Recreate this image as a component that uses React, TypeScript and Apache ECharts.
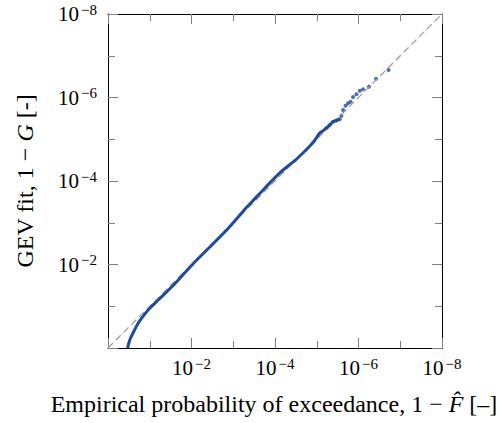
import React, { useEffect, useRef } from 'react';
import * as echarts from 'echarts';

// Exponents (log10) of empirical exceedance probability (x) and GEV-fit exceedance probability (y)
const curveX = [-0.47, -0.5, -0.54, -0.6, -0.67, -0.76, -0.87, -1.0, -1.15, -1.32, -1.64, -2.04, -2.44, -2.91, -3.3, -3.5, -3.71, -3.9, -4.11, -4.3, -4.51, -4.7, -4.83, -4.95, -5.07, -5.15, -5.23, -5.31, -5.39, -5.47, -5.55];
const curveY = [0.0, -0.12, -0.24, -0.36, -0.5, -0.65, -0.8, -0.95, -1.1, -1.26, -1.58, -2.02, -2.42, -2.9, -3.35, -3.56, -3.78, -3.98, -4.19, -4.35, -4.52, -4.7, -4.83, -4.97, -5.15, -5.2, -5.27, -5.34, -5.42, -5.45, -5.48];
const tailX = [-5.23, -5.31, -5.39, -5.47, -5.55, -5.59, -5.63, -5.69, -5.75, -5.81, -5.87, -5.95, -6.03, -6.11, -6.25, -6.42, -6.72];
const tailY = [-5.27, -5.34, -5.42, -5.45, -5.48, -5.56, -5.7, -5.8, -5.86, -5.9, -6.01, -6.08, -6.16, -6.2, -6.26, -6.45, -6.66];
const diagonal = [0, -8];
const axisMin = -8;
const axisMax = 0;

const BLUE = '#1f4b9b';
const FONT = "'Liberation Serif', 'DejaVu Serif', serif";

const fmt = (v: number) => (v === 0 ? '' : `{b|10}{s|−${Math.abs(v)}}`);

const rich = {
  b: { fontSize: 21, fontFamily: FONT, color: '#000', lineHeight: 24 },
  s: { fontSize: 15, fontFamily: FONT, color: '#000', verticalAlign: 'top', lineHeight: 14, padding: [0, 0, 0, 2] },
};

const makeAxis = (position: string, showLabel: boolean) => ({
  type: 'value',
  min: axisMin,
  max: axisMax,
  interval: 2,
  inverse: true,
  position,
  axisLine: { show: true, onZero: false, lineStyle: { color: '#000', width: 1 } },
  axisTick: { show: true, inside: true, length: 10, lineStyle: { color: '#808080', width: 1 } },
  minorTick: { show: true, splitNumber: 2, length: 7, lineStyle: { color: '#808080', width: 1 } },
  splitLine: { show: false },
  minorSplitLine: { show: false },
  axisLabel: { show: showLabel, formatter: fmt, margin: 8, rich, fontFamily: FONT },
});

export default function App() {
  const ref = useRef<HTMLDivElement>(null);
  useEffect(() => {
    const chart = echarts.init(ref.current!, null, { renderer: 'svg' });
    chart.setOption({
      animation: false,
      backgroundColor: '#fff',
      grid: { left: 108, right: 58, top: 14, bottom: 75, containLabel: false },
      xAxis: [makeAxis('bottom', true), makeAxis('top', false)],
      yAxis: [
        { ...makeAxis('left', true), axisLabel: { show: true, formatter: fmt, margin: 11, rich, fontFamily: FONT } },
        makeAxis('right', false),
      ],
      series: [
        {
          type: 'line',
          data: diagonal.map((d) => [d, d]),
          symbol: 'none',
          silent: true,
          lineStyle: { color: '#999999', width: 1.2, type: [7, 4] },
        },
        {
          type: 'line',
          data: curveX.map((x, i) => [x, curveY[i]]),
          symbol: 'none',
          smooth: 0.2,
          lineStyle: { color: BLUE, width: 3 },
        },
        {
          type: 'scatter',
          data: tailX.map((x, i) => [x, tailY[i]]),
          symbolSize: 4,
          itemStyle: { color: BLUE },
        },
      ],
      graphic: [
        {
          type: 'text',
          x: 274,
          y: 404,
          style: {
            text: 'Empirical probability of exceedance, 1 − {i|F̂} [–]',
            font: `24px ${FONT}`,
            fill: '#000',
            align: 'center',
            verticalAlign: 'middle',
            rich: { i: { fontStyle: 'italic', fontSize: 24, fontFamily: FONT } },
          },
        },
        {
          type: 'text',
          x: 25,
          y: 181,
          rotation: Math.PI / 2,
          style: {
            text: 'GEV fit, 1 − {i|G} [-]',
            font: `24px ${FONT}`,
            fill: '#000',
            align: 'center',
            verticalAlign: 'middle',
            rich: { i: { fontStyle: 'italic', fontSize: 24, fontFamily: FONT } },
          },
        },
      ],
    });
    return () => chart.dispose();
  }, []);
  return <div ref={ref} style={{ position: 'fixed', left: 0, top: 0, width: 500, height: 423 }} />;
}
